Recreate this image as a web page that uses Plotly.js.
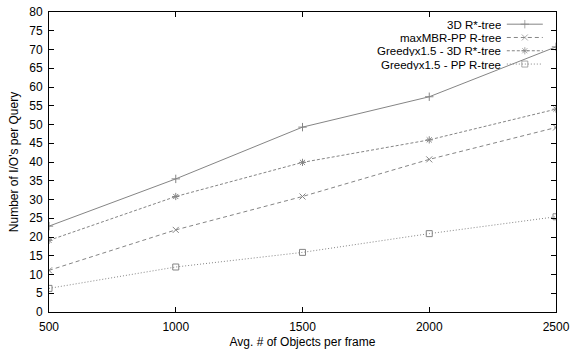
<!DOCTYPE html>
<html>
<head>
<meta charset="utf-8">
<script src="https://cdn.plot.ly/plotly-3.0.1.min.js"></script>
<style>html,body{margin:0;padding:0;background:#fff;}#chart{width:570px;height:353px;}</style>
</head>
<body>
<div id="chart"></div>
<script>
const objectsPerFrame = [500, 1000, 1500, 2000, 2500];
const rstar3D = [22.9, 35.5, 49.3, 57.4, 70.7];
const maxMBRPP = [11.1, 21.9, 30.8, 40.7, 49.2];
const greedy3D = [19.1, 30.8, 39.9, 45.9, 54.1];
const greedyPP = [6.3, 12.0, 15.9, 20.9, 25.4];
const seriesNames = ["3D R*-tree", "maxMBR-PP R-tree", "Greedyx1.5 - 3D R*-tree", "Greedyx1.5 - PP R-tree"];
const yTickVals = [0,5,10,15,20,25,30,35,40,45,50,55,60,65,70,75,80];
const xTickVals = [500, 1000, 1500, 2000, 2500];

const FONT = "Liberation Sans, Arial, Helvetica, sans-serif";
const lineColor = "#858585";
const styles = [
  {dash: "solid", symbol: "cross-thin-open"},
  {dash: "4px,3px", symbol: "x-thin-open"},
  {dash: "3px,2px", symbol: "asterisk-open"},
  {dash: "1px,2px", symbol: "square-open"}
];
const seriesData = [rstar3D, maxMBRPP, greedy3D, greedyPP];

const traces = seriesData.map((ys, i) => ({
  x: objectsPerFrame, y: ys, type: "scatter", mode: "lines+markers",
  name: seriesNames[i], showlegend: false,
  line: {color: lineColor, width: 1, dash: styles[i].dash},
  marker: {symbol: styles[i].symbol, size: 6, color: lineColor, line: {color: lineColor, width: 1}}
}));

// manual legend (symbols to the right of text, gnuplot style)
const legendRows = [0.9594, 0.9151, 0.8708, 0.8265];
const annotations = [];
seriesNames.forEach((n, i) => {
  traces.push({
    x: [0.903, 0.9385, 0.974], y: [legendRows[i], legendRows[i], legendRows[i]],
    xaxis: "x2", yaxis: "y2", type: "scatter", mode: "lines+markers", showlegend: false, hoverinfo: "skip",
    line: {color: lineColor, width: 1, dash: styles[i].dash},
    marker: {symbol: styles[i].symbol, size: [0, 6, 0], color: lineColor, line: {color: lineColor, width: 1}}
  });
  annotations.push({
    xref: "paper", yref: "paper", x: 0.894, y: legendRows[i], xanchor: "right", yanchor: "middle",
    height: 11, borderpad: 0, valign: "middle",
    text: n, showarrow: false, font: {family: FONT, size: 11.5, color: "#000"}
  });
});

const axisCommon = {
  showgrid: false, zeroline: false, showline: true, linecolor: "#000", linewidth: 1,
  mirror: "ticks", ticks: "inside", ticklen: 5, tickcolor: "#000", tickwidth: 1,
  tickfont: {family: FONT, size: 12, color: "#000"}
};

const layout = {
  width: 570, height: 353,
  margin: {l: 49, r: 14, t: 12, b: 41},
  paper_bgcolor: "#fff", plot_bgcolor: "#fff",
  showlegend: false,
  xaxis: Object.assign({}, axisCommon, {
    range: [500, 2500], tickvals: xTickVals, ticktext: xTickVals.map(String),
    ticklabelstandoff: 4,
    title: {text: "Avg. # of Objects per frame", standoff: 4, font: {family: FONT, size: 12, color: "#000"}}
  }),
  yaxis: Object.assign({}, axisCommon, {
    range: [0, 80], tickvals: yTickVals, ticktext: yTickVals.map(String),
    ticklabelstandoff: 3,
    title: {text: "Number of I/O's per Query", standoff: 8, font: {family: FONT, size: 12, color: "#000"}}
  }),
  xaxis2: {overlaying: "x", range: [0, 1], visible: false, fixedrange: true},
  yaxis2: {overlaying: "y", range: [0, 1], visible: false, fixedrange: true},
  annotations: annotations
};

Plotly.newPlot("chart", traces, layout, {displayModeBar: false, staticPlot: true});
</script>
</body>
</html>
